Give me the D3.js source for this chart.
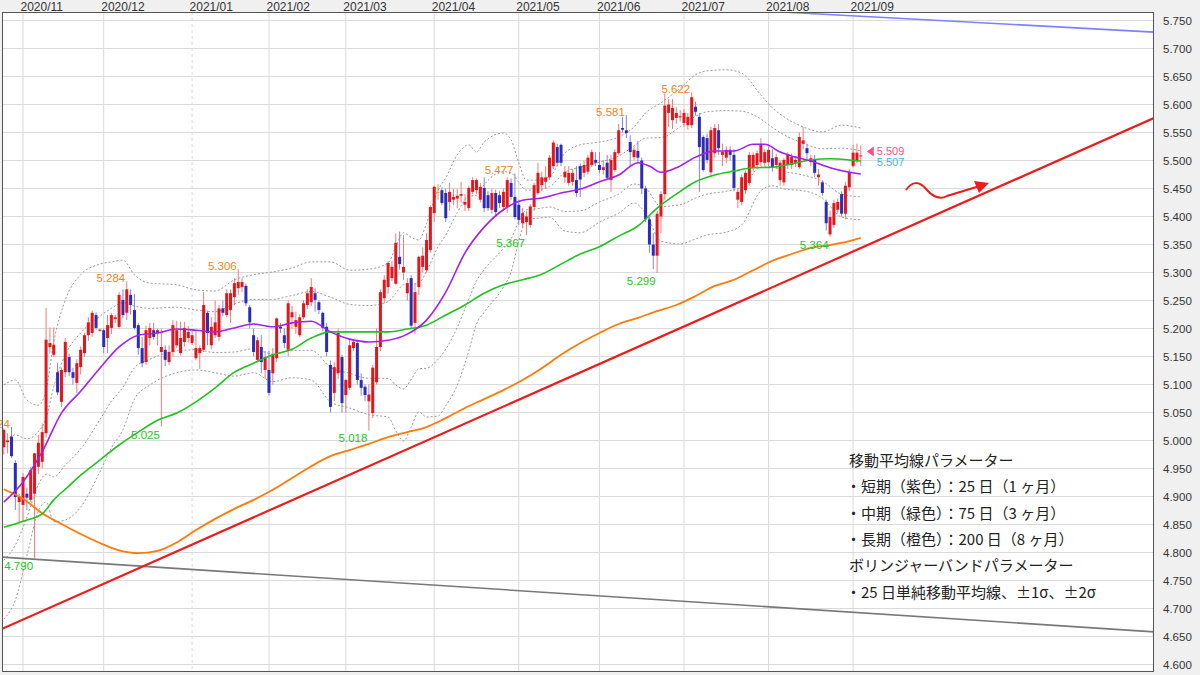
<!DOCTYPE html>
<html><head><meta charset="utf-8">
<script src="https://cdn.jsdelivr.net/npm/d3@7"></script>
<style>
html,body{margin:0;padding:0;background:#f0f0f0;}
svg{display:block;}
</style></head>
<body><svg id="chart" width="1200" height="675"></svg>
<script>
// ---------- data ----------
const monthLabels = ["2020/11","2020/12","2021/01","2021/02","2021/03","2021/04","2021/05","2021/06","2021/07","2021/08","2021/09"];
const monthIndex  = [5,26,49,69,89,112,134,155,177,199,221];
const yTicks = [4.60,4.65,4.70,4.75,4.80,4.85,4.90,4.95,5.00,5.05,5.10,5.15,5.20,5.25,5.30,5.35,5.40,5.45,5.50,5.55,5.60,5.65,5.70,5.75];

// daily candles [open, high, low, close]
const ohlc = [
[4.988,5.022,4.975,5.019],[4.997,5.013,4.977,5.000],[5.007,5.024,4.969,4.972],[4.960,4.965,4.876,4.899],
[4.890,4.905,4.852,4.900],[4.885,4.942,4.855,4.935],[4.905,4.916,4.876,4.898],[4.894,4.953,4.890,4.947],
[4.905,4.978,4.790,4.977],[4.953,5.010,4.940,4.996],[4.962,5.030,4.950,5.015],[5.013,5.237,5.005,5.180],
[5.167,5.202,5.156,5.174],[5.153,5.202,5.149,5.171],[5.122,5.139,5.081,5.086],[5.069,5.130,5.060,5.126],
[5.122,5.183,5.113,5.176],[5.149,5.155,5.115,5.122],[5.122,5.130,5.100,5.112],[5.103,5.145,5.085,5.138],
[5.131,5.168,5.118,5.162],[5.156,5.192,5.150,5.188],[5.188,5.220,5.178,5.211],[5.192,5.232,5.185,5.228],
[5.224,5.229,5.198,5.201],[5.196,5.200,5.194,5.198],[5.197,5.200,5.156,5.167],[5.183,5.224,5.156,5.206],
[5.201,5.228,5.190,5.224],[5.217,5.225,5.210,5.220],[5.203,5.265,5.200,5.260],[5.251,5.270,5.218,5.224],
[5.228,5.284,5.215,5.270],[5.260,5.270,5.225,5.242],[5.233,5.262,5.198,5.201],[5.206,5.210,5.153,5.165],
[5.165,5.185,5.131,5.138],[5.140,5.205,5.135,5.197],[5.183,5.210,5.170,5.201],[5.197,5.210,5.180,5.185],
[5.192,5.200,5.170,5.197],[5.158,5.200,5.025,5.167],[5.162,5.170,5.133,5.144],[5.140,5.170,5.135,5.158],
[5.158,5.215,5.150,5.206],[5.170,5.214,5.165,5.197],[5.156,5.212,5.152,5.183],[5.176,5.212,5.168,5.201],
[5.183,5.205,5.175,5.194],[5.174,5.196,5.170,5.188],[5.147,5.197,5.143,5.165],[5.156,5.170,5.128,5.165],
[5.162,5.265,5.158,5.242],[5.228,5.232,5.170,5.192],[5.170,5.220,5.163,5.203],[5.188,5.250,5.183,5.211],
[5.185,5.242,5.178,5.236],[5.236,5.250,5.222,5.228],[5.224,5.270,5.220,5.263],[5.233,5.270,5.210,5.263],
[5.256,5.290,5.242,5.281],[5.272,5.306,5.260,5.283],[5.274,5.290,5.265,5.283],[5.276,5.280,5.240,5.245],
[5.238,5.242,5.200,5.211],[5.188,5.200,5.150,5.158],[5.144,5.185,5.140,5.179],[5.167,5.188,5.120,5.140],
[5.126,5.160,5.110,5.149],[5.126,5.160,5.080,5.085],[5.120,5.165,5.100,5.153],[5.147,5.220,5.140,5.218],
[5.203,5.210,5.192,5.200],[5.188,5.200,5.165,5.174],[5.162,5.250,5.150,5.245],[5.220,5.240,5.200,5.229],
[5.203,5.230,5.190,5.215],[5.188,5.225,5.185,5.220],[5.220,5.250,5.216,5.245],[5.242,5.270,5.235,5.263],
[5.247,5.290,5.240,5.274],[5.263,5.272,5.230,5.251],[5.247,5.250,5.226,5.233],[5.228,5.230,5.195,5.201],
[5.203,5.210,5.150,5.158],[5.135,5.143,5.050,5.060],[5.085,5.140,5.070,5.131],[5.120,5.200,5.110,5.192],
[5.149,5.153,5.050,5.067],[5.081,5.110,5.050,5.108],[5.094,5.180,5.090,5.170],[5.165,5.180,5.160,5.176],
[5.174,5.180,5.100,5.108],[5.108,5.120,5.080,5.094],[5.096,5.100,5.070,5.081],[5.070,5.100,5.018,5.082],
[5.049,5.135,5.040,5.130],[5.104,5.200,5.100,5.167],[5.167,5.270,5.160,5.265],[5.254,5.295,5.245,5.287],
[5.274,5.320,5.262,5.317],[5.290,5.320,5.285,5.310],[5.280,5.370,5.278,5.353],[5.328,5.373,5.305,5.315],
[5.300,5.367,5.287,5.310],[5.263,5.290,5.250,5.281],[5.290,5.295,5.200,5.205],[5.210,5.280,5.190,5.265],
[5.274,5.330,5.260,5.328],[5.310,5.345,5.300,5.330],[5.304,5.370,5.300,5.358],[5.340,5.420,5.335,5.417],
[5.406,5.455,5.390,5.453],[5.444,5.458,5.430,5.444],[5.447,5.452,5.420,5.424],[5.442,5.450,5.390,5.397],
[5.426,5.460,5.410,5.444],[5.430,5.450,5.420,5.435],[5.432,5.450,5.415,5.437],[5.437,5.462,5.425,5.440],
[5.421,5.440,5.410,5.426],[5.415,5.455,5.410,5.451],[5.444,5.470,5.440,5.465],[5.447,5.468,5.440,5.465],
[5.430,5.460,5.425,5.453],[5.451,5.470,5.408,5.415],[5.438,5.445,5.410,5.415],[5.412,5.450,5.405,5.442],
[5.442,5.448,5.400,5.408],[5.438,5.445,5.415,5.424],[5.417,5.450,5.410,5.444],[5.417,5.470,5.406,5.465],
[5.460,5.468,5.430,5.435],[5.435,5.477,5.395,5.399],[5.421,5.430,5.385,5.394],[5.388,5.415,5.380,5.406],
[5.390,5.410,5.367,5.400],[5.385,5.422,5.380,5.418],[5.417,5.460,5.410,5.456],[5.442,5.496,5.438,5.478],
[5.456,5.480,5.445,5.470],[5.462,5.490,5.450,5.470],[5.470,5.510,5.465,5.505],[5.490,5.536,5.485,5.532],
[5.524,5.530,5.490,5.496],[5.528,5.530,5.490,5.496],[5.470,5.490,5.460,5.480],[5.460,5.490,5.455,5.478],
[5.462,5.485,5.455,5.478],[5.465,5.490,5.435,5.442],[5.490,5.495,5.435,5.466],[5.478,5.500,5.470,5.492],
[5.480,5.510,5.475,5.505],[5.492,5.520,5.488,5.515],[5.501,5.515,5.490,5.496],[5.492,5.515,5.477,5.483],
[5.483,5.500,5.475,5.488],[5.496,5.510,5.465,5.469],[5.465,5.510,5.444,5.501],[5.483,5.520,5.480,5.515],
[5.513,5.565,5.510,5.554],[5.558,5.578,5.550,5.555],[5.554,5.581,5.540,5.549],[5.533,5.545,5.488,5.515],
[5.506,5.525,5.500,5.519],[5.517,5.535,5.495,5.505],[5.500,5.505,5.440,5.450],[5.450,5.455,5.390,5.395],
[5.395,5.400,5.335,5.350],[5.350,5.370,5.306,5.330],[5.330,5.410,5.299,5.405],[5.400,5.445,5.370,5.440],
[5.440,5.620,5.430,5.598],[5.585,5.610,5.560,5.600],[5.572,5.610,5.556,5.594],[5.576,5.595,5.565,5.585],
[5.577,5.590,5.570,5.579],[5.567,5.592,5.560,5.585],[5.563,5.585,5.555,5.578],[5.563,5.622,5.558,5.613],
[5.596,5.605,5.580,5.587],[5.578,5.585,5.444,5.524],[5.542,5.545,5.480,5.483],[5.540,5.548,5.495,5.501],
[5.479,5.560,5.470,5.554],[5.513,5.565,5.505,5.558],[5.554,5.565,5.510,5.522],[5.510,5.530,5.490,5.515],
[5.505,5.525,5.495,5.519],[5.519,5.525,5.500,5.510],[5.510,5.520,5.445,5.451],[5.430,5.450,5.415,5.444],
[5.426,5.475,5.420,5.470],[5.447,5.482,5.440,5.478],[5.460,5.515,5.455,5.510],[5.487,5.515,5.480,5.510],
[5.492,5.518,5.485,5.513],[5.497,5.540,5.490,5.528],[5.496,5.520,5.490,5.515],[5.497,5.525,5.490,5.519],
[5.504,5.520,5.480,5.488],[5.492,5.512,5.485,5.506],[5.465,5.500,5.455,5.496],[5.461,5.505,5.455,5.501],
[5.492,5.515,5.485,5.510],[5.492,5.512,5.485,5.506],[5.496,5.508,5.488,5.501],[5.488,5.550,5.485,5.542],
[5.530,5.560,5.520,5.536],[5.522,5.530,5.500,5.513],[5.497,5.510,5.490,5.504],[5.501,5.510,5.470,5.478],
[5.470,5.485,5.455,5.475],[5.461,5.465,5.437,5.442],[5.426,5.430,5.375,5.388],[5.368,5.410,5.364,5.399],
[5.385,5.430,5.380,5.424],[5.412,5.432,5.405,5.426],[5.440,5.445,5.400,5.405],[5.405,5.462,5.395,5.455],
[5.452,5.485,5.445,5.480],[5.490,5.528,5.488,5.514],[5.500,5.530,5.495,5.514],[5.508,5.527,5.490,5.509]
];

// moving averages [candle index, value]
const ma25 = [[0,4.890],[5,4.926],[10,4.980],[15,5.049],[20,5.088],[25,5.129],[30,5.167],[35,5.188],[40,5.192],[45,5.199],[50,5.197],[55,5.194],[60,5.201],[65,5.208],[70,5.203],[75,5.210],[80,5.213],[85,5.194],[90,5.181],[95,5.176],[100,5.179],[105,5.190],[110,5.215],[115,5.265],[120,5.335],[125,5.381],[130,5.412],[135,5.429],[140,5.433],[145,5.442],[150,5.449],[155,5.462],[160,5.474],[165,5.496],[168,5.490],[171,5.479],[175,5.487],[180,5.506],[185,5.517],[190,5.517],[195,5.529],[198,5.529],[202,5.515],[206,5.506],[210,5.499],[215,5.487],[220,5.479],[223,5.476]];
const ma75 = [[0,4.845],[5,4.856],[10,4.869],[13,4.894],[17,4.919],[20,4.938],[25,4.965],[30,4.992],[35,5.015],[40,5.036],[45,5.049],[50,5.069],[55,5.094],[60,5.122],[65,5.138],[70,5.153],[75,5.163],[80,5.183],[85,5.194],[90,5.194],[95,5.194],[100,5.194],[105,5.199],[110,5.206],[115,5.224],[120,5.242],[125,5.263],[130,5.278],[135,5.287],[140,5.297],[145,5.315],[150,5.333],[155,5.346],[160,5.365],[165,5.383],[170,5.415],[175,5.440],[180,5.462],[185,5.474],[190,5.481],[195,5.487],[200,5.488],[205,5.494],[210,5.501],[215,5.503],[220,5.501],[223,5.499]];
const ma200 = [[0,4.913],[5,4.896],[10,4.870],[15,4.851],[20,4.833],[25,4.817],[30,4.804],[35,4.799],[40,4.803],[45,4.818],[50,4.840],[55,4.860],[60,4.878],[65,4.894],[70,4.912],[75,4.933],[80,4.954],[85,4.972],[90,4.983],[95,4.994],[100,5.006],[105,5.015],[110,5.024],[115,5.040],[120,5.058],[125,5.074],[130,5.090],[135,5.108],[140,5.129],[145,5.153],[150,5.174],[155,5.192],[160,5.208],[165,5.219],[170,5.231],[175,5.242],[180,5.258],[185,5.276],[190,5.287],[195,5.304],[200,5.321],[205,5.333],[210,5.344],[215,5.349],[220,5.356],[223,5.362]];

// Bollinger bands [candle index, value]
const bandIdx = [0,3,6,9,11,13,16,20,25,28,31,34,38,45,50,55,60,65,70,75,80,85,90,95,100,102,104,106,108,110,113,115,118,121,123,125,130,132,134,136,139,142,146,150,155,160,164,167,171,176,180,183,188,192,197,200,203,208,213,218,223];
const bandUp2 = [5.099,5.108,5.072,5.063,5.090,5.176,5.251,5.296,5.315,5.319,5.322,5.296,5.281,5.278,5.269,5.267,5.287,5.296,5.301,5.308,5.319,5.319,5.304,5.306,5.317,5.346,5.371,5.363,5.358,5.388,5.447,5.469,5.510,5.528,5.515,5.533,5.549,5.537,5.496,5.465,5.465,5.471,5.513,5.528,5.533,5.542,5.560,5.585,5.603,5.629,5.653,5.660,5.662,5.656,5.617,5.594,5.578,5.560,5.551,5.563,5.558];
const bandUp1 = [4.995,5.010,5.003,5.016,5.040,5.096,5.153,5.192,5.222,5.236,5.246,5.240,5.236,5.238,5.233,5.230,5.244,5.252,5.252,5.259,5.266,5.256,5.243,5.241,5.248,5.263,5.278,5.279,5.281,5.302,5.346,5.367,5.407,5.436,5.438,5.457,5.480,5.478,5.461,5.447,5.448,5.453,5.479,5.488,5.497,5.508,5.526,5.540,5.541,5.560,5.579,5.587,5.589,5.588,5.574,5.559,5.546,5.531,5.521,5.522,5.517];
const bandLo1 = [4.786,4.813,4.863,4.921,4.940,4.935,4.956,4.985,5.037,5.070,5.095,5.130,5.145,5.160,5.162,5.157,5.158,5.164,5.154,5.161,5.161,5.131,5.120,5.111,5.111,5.099,5.092,5.109,5.128,5.129,5.145,5.163,5.202,5.252,5.285,5.305,5.343,5.360,5.391,5.412,5.414,5.417,5.409,5.410,5.426,5.440,5.458,5.451,5.418,5.421,5.433,5.440,5.445,5.453,5.488,5.489,5.481,5.474,5.463,5.440,5.435];
const bandLo2 = [4.681,4.715,4.794,4.874,4.890,4.855,4.858,4.881,4.944,4.987,5.019,5.074,5.099,5.121,5.126,5.121,5.115,5.121,5.105,5.112,5.108,5.069,5.058,5.046,5.042,5.017,4.999,5.024,5.051,5.042,5.044,5.062,5.099,5.160,5.208,5.229,5.274,5.301,5.356,5.394,5.397,5.399,5.374,5.371,5.390,5.406,5.424,5.406,5.356,5.351,5.360,5.367,5.372,5.385,5.446,5.455,5.449,5.446,5.433,5.399,5.394];

// trend lines [candle index, value]
const trendRed  = [[-1,4.662],[300,5.578]];
const trendGray = [[-1,4.792],[300,4.658]];
const trendBlue = [[200,5.766],[300,5.729]];

// labelled highs / lows
const highLabels = [[2,5.024],[32,5.284],[61,5.306],[133,5.477],[162,5.581],[179,5.622]];
const lowLabels  = [[8,4.790],[41,5.025],[95,5.018],[136,5.367],[170,5.299],[215,5.364]];
const lastPrices = ["5.509","5.507"];

const legendLines = ["移動平均線パラメーター","・短期（紫色）：25 日（1 ヶ月）","・中期（緑色）：75 日（3 ヶ月）","・長期（橙色）：200 日（8 ヶ月）","ボリンジャーバンドパラメーター","・25 日単純移動平均線、±1σ、±2σ"];

// ---------- drawing ----------
const svg = d3.select("#chart");
const P = {l:2, t:12, r:1154, b:672};
const x = d3.scaleLinear().domain([0,1]).range([3.8, 3.8+3.843]);
const y = d3.scaleLinear().domain([4.6,5.75]).range([664.5,20.5]);

svg.append("rect").attr("width",1200).attr("height",675).attr("fill","#f0f0f0");
svg.append("rect").attr("x",P.l).attr("y",P.t).attr("width",P.r-P.l).attr("height",P.b-P.t).attr("fill","#fff");

const defs = svg.append("defs");
defs.append("clipPath").attr("id","clip")
  .append("rect").attr("x",P.l).attr("y",P.t).attr("width",P.r-P.l).attr("height",P.b-P.t);
defs.append("clipPath").attr("id","clipL")
  .append("rect").attr("x",0).attr("y",P.t).attr("width",P.r).attr("height",P.b-P.t);

const grid = svg.append("g");
grid.selectAll("line.h").data(yTicks).join("line")
  .attr("x1",P.l).attr("x2",P.r).attr("y1",d=>y(d)).attr("y2",d=>y(d))
  .attr("stroke","#dadada").attr("stroke-width",1);
grid.selectAll("line.v").data(monthIndex).join("line")
  .attr("x1",d=>x(d)).attr("x2",d=>x(d)).attr("y1",P.t).attr("y2",P.b)
  .attr("stroke","#dadada").attr("stroke-width",1)
  .attr("stroke-dasharray",(d,i)=>monthLabels[i]==="2021/01"?"3,3":null);

const plot = svg.append("g").attr("clip-path","url(#clip)");
const line = d3.line().x(d=>x(d[0])).y(d=>y(d[1])).curve(d3.curveMonotoneX);
const straight = d3.line().x(d=>x(d[0])).y(d=>y(d[1]));

[bandUp2,bandUp1,bandLo1,bandLo2].forEach(b=>{
  plot.append("path").attr("d",line(bandIdx.map((i,k)=>[i,b[k]])))
    .attr("fill","none").attr("stroke","#9a9a9a").attr("stroke-width",1).attr("stroke-dasharray","2,2");
});

// candles
const UP_B="#e3161c", UP_W="#f27a7a", DN_B="#2b2db8", DN_W="#8284e2", EQ="#e0a030";
const cg = plot.append("g");
ohlc.forEach((d,i)=>{
  const [o,h,l,c]=d;
  const col = c>o?UP_B:(c<o?DN_B:EQ);
  const wcol = c>o?UP_W:(c<o?DN_W:EQ);
  const cx = x(i);
  cg.append("line").attr("x1",cx).attr("x2",cx).attr("y1",y(h)).attr("y2",y(l))
    .attr("stroke",wcol).attr("stroke-width",1);
  const top=y(Math.max(o,c)), bot=y(Math.min(o,c));
  cg.append("rect").attr("x",cx-1.5).attr("width",3).attr("y",top).attr("height",Math.max(1,bot-top)).attr("fill",col);
});

plot.append("path").attr("d",line(ma200)).attr("fill","none").attr("stroke","#ff7a0a").attr("stroke-width",1.8);
plot.append("path").attr("d",line(ma75)).attr("fill","none").attr("stroke","#1fc21f").attr("stroke-width",1.6);
plot.append("path").attr("d",line(ma25)).attr("fill","none").attr("stroke","#a21ff0").attr("stroke-width",1.6);

plot.append("path").attr("d",straight(trendGray)).attr("fill","none").attr("stroke","#787878").attr("stroke-width",1.6);
plot.append("path").attr("d",straight(trendRed)).attr("fill","none").attr("stroke","#ee1b1b").attr("stroke-width",2.2);
plot.append("path").attr("d",straight(trendBlue)).attr("fill","none").attr("stroke","#7f7fff").attr("stroke-width",1.6);

// high / low labels
const lf = "'Liberation Sans', Arial, sans-serif";
const lab = svg.append("g").attr("clip-path","url(#clipL)");
lab.selectAll("text.hi").data(highLabels).join("text")
  .attr("x",d=>x(d[0])-1.5).attr("y",d=>y(d[1])+0.5).attr("text-anchor","end")
  .attr("font-family",lf).attr("font-size",11.5).attr("fill","#f58220").text(d=>d[1].toFixed(3));
lab.selectAll("text.lo").data(lowLabels).join("text")
  .attr("x",d=>x(d[0])-1.5).attr("y",d=>y(d[1])+12).attr("text-anchor","end")
  .attr("font-family",lf).attr("font-size",11.5).attr("fill","#25c425").text(d=>d[1].toFixed(3));

// last price marker
const lastI = ohlc.length-1, lastC = ohlc[lastI][3];
plot.append("path").attr("d",`M${x(lastI)+6},${y(lastC)-4} l7,-5 l0,10 z`).attr("fill","#ff4f80");
plot.append("text").attr("x",x(lastI)+16).attr("y",y(lastC)).attr("font-family",lf).attr("font-size",11).attr("fill","#ff4f80").text(lastPrices[0]);
plot.append("text").attr("x",x(lastI)+16).attr("y",y(lastC)+10.5).attr("font-family",lf).attr("font-size",11).attr("fill","#35b5e8").text(lastPrices[1]);

// wavy arrow
plot.append("path").attr("d","M906,190 C912,181 919,181 926,189 C933,197 940,200 947,196 L983,185")
  .attr("fill","none").attr("stroke","#ee1b1b").attr("stroke-width",2);
plot.append("path").attr("d","M989,183 L974,181 L979,193 Z").attr("fill","#ee1b1b");

// legend
svg.selectAll("text.lg").data(legendLines).join("text")
  .attr("x",(d,i)=>d.startsWith("・")?846:849).attr("y",(d,i)=>466+i*26.3)
  .attr("font-family","'Noto Sans CJK JP', sans-serif").attr("font-size",15).attr("fill","#222").text(d=>d);

// frame
svg.append("rect").attr("x",P.l+0.5).attr("y",P.t+0.5).attr("width",P.r-P.l-1).attr("height",P.b-P.t-1)
  .attr("fill","none").attr("stroke","#555").attr("stroke-width",1);

// axes labels
svg.selectAll("text.m").data(monthLabels).join("text")
  .attr("x",(d,i)=>x(monthIndex[i])-2.5).attr("y",10.5)
  .attr("font-family",lf).attr("font-size",12).attr("fill","#333").text(d=>d);
svg.selectAll("text.yt").data(yTicks).join("text")
  .attr("x",1163).attr("y",d=>y(d)+4)
  .attr("font-family",lf).attr("font-size",11.5).attr("fill","#333").text(d=>d.toFixed(3));
</script>
</body></html>
